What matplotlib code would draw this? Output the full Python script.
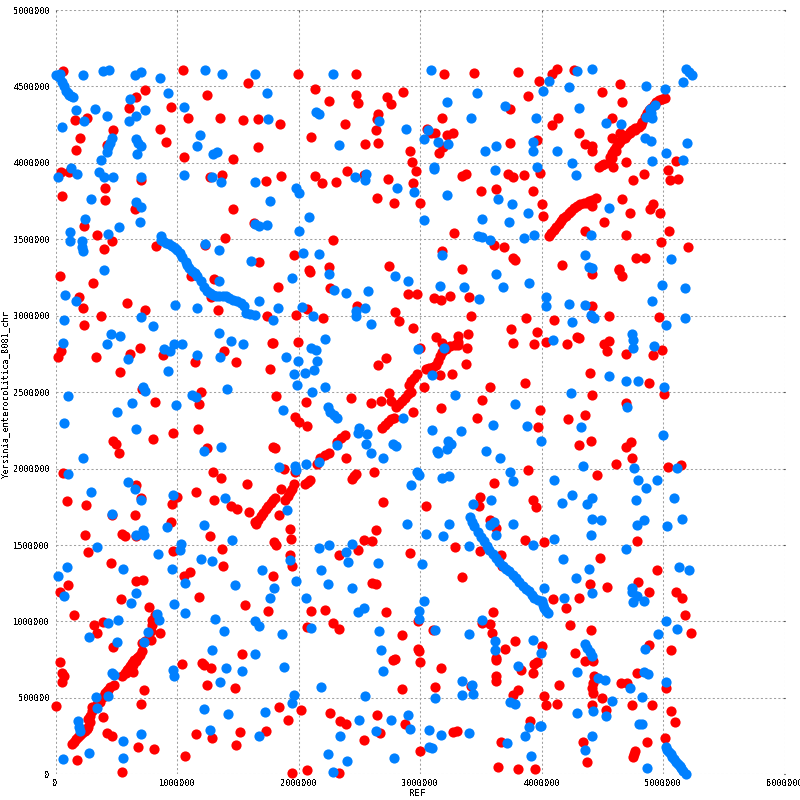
import numpy as np
import matplotlib
matplotlib.use('Agg')
import matplotlib.pyplot as plt

# all positions in kb (REF, query)
red_runs = [
    (133,199),(150,214),(168,229),(185,244),(202,258),(222,270),(243,284),(258,298),(271,312),(280,345),(285,380),
    (298,411),(312,428),(326,443),(300,440),(345,460),(367,476),(370,490),(388,505),(409,531),(420,545),(430,552),(450,574),(478,585),
    (547,640),(568,662),(580,660),(588,684),(600,690),(610,706),(620,705),(630,727),(640,715),(650,745),(660,740),(671,760),(680,770),(692,782),(713,804),(713,858),(740,875),
    (768,891),(782,880),(790,940),(795,978),(795,1011),(823,1044),
    (1642,1650),(1652,1640),(1670,1665),(1690,1690),(1710,1712),(1730,1735),(1750,1755),(1770,1775),(1790,1795),(1807,1807),
    (1890,1792),(1910,1820),(1930,1845),(1950,1865),(1960,1901),(2055,1901),(2075,1912),(2096,1923),
    (2152,2033),(2179,2070),(2220,2088),(2248,2099),(2317,2175),(2350,2198),(2386,2219),(2441,1934),(2459,1950),(2477,1967),
    (2689,2263),(2710,2285),(2735,2305),(2760,2322),(2785,2333),(2744,2493),(2758,2439),
    (2799,2406),(2825,2425),(2850,2445),(2875,2465),(2900,2485),(2923,2504),(2909,2548),(2930,2575),(2950,2595),(2978,2618),
    (3047,2651),(3075,2655),(3105,2662),(3135,2680),(3150,2705),(3165,2735),(3185,2765),(3210,2785),(3250,2800),(3290,2808),(3314,2830),(3314,2866),
    (4058,3524),(4078,3542),(4099,3561),(4120,3580),(4140,3600),(4160,3618),(4181,3637),(4202,3654),(4223,3670),(4244,3687),
    (4264,3703),(4292,3718),(4319,3731),(4346,3736),(4374,3740),(4395,3750),(4415,3757),(4448,3768),
    (4470,3975),(4495,3985),(4517,3993),(4567,4002),(4589,3975),(4567,4041),(4580,4030),(4584,4062),(4600,4084),(4610,4075),(4614,4106),(4627,4128),(4640,4130),(4645,4140),
    (4663,4154),(4684,4168),(4690,4165),(4704,4183),(4725,4200),(4730,4195),(4745,4215),(4770,4215),(4772,4226),(4800,4237),(4815,4245),(4828,4270),(4855,4302),(4870,4325),(4883,4346),
    (4904,4362),(4924,4379),(4945,4395),(4965,4411),(4992,4420),(5020,4427),
]
red_hits = [
    (64,4601),(740,4477),(660,4433),(602,4357),(950,4363),(1052,4605),(1588,4520),(1248,4442),(1091,4292),(1356,4292),
    (1541,4278),(1668,4285),(257,4292),(163,4278),(470,4213),(859,4220),(204,4161),(909,4135),(1668,4102),(171,4082),
    (425,4117),(1058,4036),(1464,4023),(47,3940),(113,3940),(702,3888),(1273,3906),(1373,3919),(1729,3880),(406,3836),
    (55,3781),(409,3757),(652,3698),(1464,3696),(238,3590),(1635,3605),(345,3526),(1398,3511),(461,3487),(403,3435),
    (826,3454),(1232,3463),(1679,3350),
    (39,3263),(312,3211),(196,3125),(229,3053),(378,3000),(238,2941),(586,3086),(735,3039),(1116,3263),(1306,3237),
    (1279,3125),(1340,3039),(1737,3000),(1782,2822),(22,2730),(47,2770),(337,2730),(613,2750),(693,2789),(884,2743),
    (528,2632),(1389,2770),(1149,2697),(1489,2697),(1762,2651),(710,2520),(1199,2500),(1182,2421),(818,2434),(1174,2257),
    (967,2230),(801,2191),(470,2178),(494,2158),(519,2105),(1248,2132),(64,1974),(1298,1980),(1364,1941),(1580,1901),
    (660,1895),(1157,1849),(702,1809),(1000,1816),(1306,1796),(97,1790),(254,1763),(958,1770),(1447,1757),(1497,1737),
    (1596,1717),(461,1697),(652,1697),(950,1651),
    (246,1568),(544,1574),(569,1557),(660,1561),(1273,1561),(265,1454),(969,1461),(1373,1474),(453,1382),(1381,1362),
    (1108,1323),(1058,1295),(660,1264),(718,1271),(105,1238),(39,1192),(536,1146),(1182,1159),(1563,1107),(768,1094),
    (1746,1068),(155,1042),(395,996),(320,976),(340,924),(859,924),(470,832),(39,734),(1539,786),(1041,721),
    (1207,727),(1224,714),(1282,694),(55,662),(72,642),(55,603),(635,666),(1248,583),(1480,563),(726,550),
    (6,446),(702,459),(395,374),(271,363),(420,269),(461,249),(1157,262),(1290,236),(1519,275),(1729,282),
    (677,177),(809,164),(1489,190),(1066,118),(180,92),(544,13),
    (1992,4579),(2471,4579),(3198,4579),(3446,4586),(3810,4592),(3983,4533),(2132,4481),(2860,4462),(2471,4442),(2248,4403),
    (2488,4390),(2727,4429),(2760,4383),(3893,4435),(3738,4350),(2653,4318),(2645,4285),(3182,4292),(1851,4252),(2380,4252),
    (2636,4213),(3058,4220),(3091,4193),(3124,4193),(3223,4180),(3273,4193),(2099,4167),(2545,4121),(2653,4128),(3744,4132),
    (3959,4148),(3190,4102),(3157,4063),(2917,4076),(2934,4004),(2967,3945),(1857,3912),(2132,3912),(2190,3866),(2306,3873),
    (2397,3945),(2537,3919),(2736,3893),(2942,3866),(3347,3912),(3375,3925),(3727,3925),(3769,3906),(3860,3919),(3984,3932),
    (3504,3814),(3625,3827),(3934,3814),(2647,3773),(2785,3736),(3000,3736),(4003,3729),(3281,3539),(2281,3494),(3612,3461),
    (3694,3448),(3182,3422),(1959,3396),(3769,3376),(3785,3363),(2248,3317),(2744,3324),(2083,3300),(3347,3304),
    (2096,3289),(1835,3191),(2256,3184),(2901,3145),(2975,3145),(3116,3118),(3174,3105),(3248,3132),(3405,3125),(2479,3066),
    (2066,3046),(1983,3007),(2198,2987),(2793,3026),(2826,2967),(2942,2921),(3422,3000),(3876,2987),(3752,2914),(3967,2895),
    (3132,2862),(3182,2822),(3397,2882),(3769,2822),(3942,2816),(1788,2822),(1992,2829),(3000,2789),(3389,2789),(3314,2809),
    (2719,2724),(2653,2678),(3380,2684),(3264,2618),(3165,2612),(3868,2559),(3033,2533),(3579,2533),(1818,2474),(2430,2461),
    (2595,2428),(2678,2441),(2058,2434),(3512,2447),(3174,2395),(2942,2368),(3984,2382),(1975,2336),(2000,2303),(2074,2276),
    (3471,2329),(3975,2270),(2388,2066),(3893,1993),(1884,2000),(1975,1980),(2620,1980),(3612,1908),(1860,1868),(2694,1783),
    (3050,1757),(3496,1816),(3488,1757),(3926,1796),(3951,1750),(1843,1697),(1934,1605),(2636,1599),(3579,1664),(3625,1612),
    (1804,2132),(1790,2140),
    (1802,1522),(1818,1500),(1942,1539),(2537,1533),(2603,1526),(2488,1467),(2331,1435),(1926,1435),(1950,1362),(2917,1448),
    (3289,1487),(3496,1461),(3868,1533),(3669,1435),(3678,1362),(1793,1297),(3347,1290),(2603,1251),(2636,1245),(2099,1068),
    (2215,1074),(2719,1061),(3603,1061),(2281,989),(2331,950),(2066,963),(2983,1002),(3107,943),(2851,911),(3510,989),
    (3579,983),(3595,924),(3785,871),(3703,819),(2983,819),(2992,806),(2793,753),(2777,747),(3000,734),(3628,760),
    (3628,747),(3174,694),(3835,681),(3942,721),(3967,734),(3926,662),(3628,642),(3628,609),(3124,570),(2851,557),
    (3422,577),(3810,550),(3769,517),(1843,439),(2017,419),(2256,400),(1917,354),(2339,347),(2388,328),(2645,387),
    (2876,328),(2669,269),(2537,223),(3273,275),(3306,282),(3909,347),(3000,151),(3669,210),(2066,26),(1950,7),
    (2331,7),(3645,46),(3810,33),(3950,33),
    (4127,4612),(4083,4579),(4264,4605),(4644,4514),(4495,4462),(4660,4396),(4132,4292),(4578,4292),(4083,4246),(4305,4193),
    (4578,4161),(4649,4193),(4355,4121),(4413,4110),(4413,4076),(4693,4004),(5106,4010),(5040,3951),(4842,3925),(4751,3886),
    (5056,3886),(5122,3893),(4016,3651),(4660,3762),(4413,3716),(4726,3670),(4916,3729),(4891,3696),(4974,3670),(4512,3611),
    (4355,3552),(5048,3552),(4693,3526),(4982,3481),(5205,3448),(4776,3376),(4850,3376),(4165,3330),(4635,3304),
    (4413,3276),(4635,3298),(4660,3257),(4413,3066),(4099,2974),(4553,3000),(4413,2993),(4966,2993),(4041,2829),(4206,2816),
    (4289,2862),(4311,2855),(4512,2816),(4553,2836),(4536,2770),(4693,2750),(4916,2743),(4990,2776),(4396,2625),(4883,2559),
    (4413,2480),(5012,2487),(4693,2428),(4355,2349),(4215,2322),(4404,2178),(4305,2151),(4734,2171),(4693,2138),(4742,2066),
    (4610,2033),(5040,2013),(5147,2026),(4454,1961),
    (4017,1520),(4784,1526),(4479,1415),(4949,1336),(4396,1245),(4536,1225),(4792,1258),(4883,1192),(5106,1192),(5155,1153),
    (4091,1146),(4305,1153),(4198,1087),(5180,1042),(4231,976),(4404,943),(5229,924),(4008,839),(4883,845),(5064,812),
    (4272,793),(4355,740),(4421,740),(4429,642),(4421,596),(4421,531),(4413,564),(4784,662),(4652,596),(4701,596),
    (4140,583),(5023,563),(4017,511),(4495,498),(4033,452),(4124,459),(4413,452),(4742,452),(4913,454),(4528,419),
    (5064,413),(5097,341),(5015,236),(4338,210),(4866,210),(4767,151),(4759,133),(4751,116),(4371,79),
]
blue_runs = [
    (3,4573),(36,4581),(30,4560),(50,4530),(70,4500),(85,4470),(100,4455),(115,4445),(130,4438),(141,4433),
    (867,3522),(867,3496),(885,3486),(906,3478),(933,3467),(961,3456),(982,3443),(1003,3430),(1024,3408),(1044,3387),(1072,3354),(1085,3332),(1099,3310),(1127,3294),(1148,3278),(1168,3261),
    (1196,3228),(1224,3189),(1251,3162),(1272,3149),(1293,3136),(1320,3132),(1348,3129),(1375,3129),(1403,3129),(1430,3115),(1458,3101),(1492,3094),(1527,3086),(1555,3064),(1569,3020),(1600,3012),(1638,3004),
    (2240,2401),(2262,2373),(2289,2351),(2317,2329),
    (3412,1683),(3425,1650),(3447,1627),(3474,1583),(3500,1555),(3529,1524),(3550,1495),(3570,1469),(3598,1440),(3625,1415),
    (3652,1388),(3680,1360),(3708,1345),(3736,1328),(3763,1305),(3791,1284),(3818,1255),(3846,1229),(3873,1212),(3901,1197),
    (3922,1175),(3942,1153),(3970,1138),(4003,1131),(4015,1105),(4022,1087),(4035,1070),(4050,1055),
    (4355,852),(4374,825),(4396,799),(4413,775),
    (5023,177),(5035,162),(5048,149),(5062,132),(5076,116),(5090,100),(5103,83),(5121,68),(5139,55),(5152,40),(5166,24),(5188,0),
]
blue_hits = [
    (229,4573),(395,4599),(439,4605),(652,4573),(702,4592),(859,4553),(925,4455),(610,4416),(171,4344),(329,4350),
    (420,4305),(660,4305),(735,4344),(602,4272),(238,4272),(55,4233),(1058,4363),(1232,4605),(1373,4579),(1638,4579),
    (1737,4455),(1746,4285),(1190,4180),(1166,4108),(1298,4056),(1326,4069),(461,4161),(450,4128),(436,4106),(420,4071),
    (378,4017),(660,4154),(679,4128),(702,4108),(668,4056),(130,3964),(22,3906),(180,3925),(362,3938),(403,3906),
    (470,3906),(702,3906),(1058,3919),(1287,3906),(1364,3873),(1646,3873),(296,3762),(660,3742),(702,3709),(693,3611),
    (246,3631),(1762,3749),(1638,3598),(1671,3585),(1737,3592),(519,3579),(122,3546),(122,3487),(428,3533),(221,3487),
    (215,3448),(229,3422),(1232,3467),(1348,3428),(1613,3356),(403,3298),
    (80,3138),(171,3099),(1348,3224),(983,3072),(1166,3053),(1679,3099),(702,2993),(72,2974),(801,2934),(453,2882),
    (528,2868),(1348,2888),(64,2822),(420,2816),(1447,2836),(1547,2816),(892,2783),(942,2770),(975,2816),(1041,2816),
    (1166,2743),(1356,2730),(594,2717),(925,2638),(718,2533),(735,2509),(1414,2520),(105,2474),(1124,2480),(1157,2467),
    (627,2428),(992,2414),(503,2368),(72,2296),(660,2257),(229,2066),(1364,2138),(1224,2112),(105,1967),(594,1914),
    (652,1868),(296,1849),(702,1796),(967,1829),(1398,1809),(461,1704),(920,1618),(1224,1632),(718,1599),
    (660,1568),(726,1568),(1033,1507),(1025,1467),(345,1487),(842,1441),(1456,1533),(1199,1408),(1290,1395),(97,1356),
    (552,1343),(958,1343),(1696,1336),(22,1297),(1066,1251),(1480,1238),(660,1186),(72,1166),(1762,1153),(619,1120),
    (975,1114),(1066,1055),(834,1048),(851,1009),(1315,1015),(1638,1002),(1679,969),(511,1009),(436,989),(1389,937),
    (760,930),(279,897),(726,865),(503,865),(1290,812),(1646,786),(967,681),(975,642),(1406,694),(1538,673),
    (461,662),(478,649),(1356,603),(337,505),(428,511),(345,432),(1224,426),(1422,393),(1721,406),(188,347),
    (196,312),(204,282),(1273,288),(1671,249),(552,216),(702,262),(279,138),(64,99),(552,105),
    (2281,4579),(3091,4605),(3471,4457),(3223,4396),(3703,4370),(2141,4331),(2165,4318),(3422,4292),(3951,4292),(2661,4272),
    (2884,4220),(3066,4213),(3033,4154),(3149,4135),(3231,4121),(2331,4115),(3628,4108),(3537,4076),(3926,4135),(3926,4076),
    (3967,3971),(3116,3971),(3116,3958),(3617,3951),(2554,3925),(2545,3886),(2463,3906),(2810,3834),(2950,3808),(1983,3834),
    (2000,3801),(3223,3788),(3645,3762),(3758,3729),(3893,3670),(2083,3644),(3033,3624),(3512,3631),(3736,3611),(2008,3552),
    (3479,3520),(3507,3513),(3579,3494),(3860,3507),(3942,3526),(2041,3409),(2165,3402),(3182,3396),
    (1950,3250),(2248,3270),(2793,3263),(2901,3224),(3165,3197),(3364,3191),(3628,3276),(3686,3191),(3901,3217),(2289,3171),
    (2388,3151),(2570,3164),(3488,3112),(1835,3053),(2025,3059),(2116,3000),(1788,2974),(2471,3033),(2471,3000),(2545,3053),
    (2595,2947),(2215,2849),(2099,2789),(2141,2776),(1901,2730),(1992,2704),(2149,2704),(2124,2645),(1967,2618),(2050,2625),
    (1986,2546),(2215,2533),(2107,2500),(1876,2382),(2986,2783),(3198,2789),(3099,2612),(3289,2480),(3785,2421),(2860,2329),
    (3099,2250),(3339,2243),(3603,2283),(3884,2276),(3997,2178),(2496,2263),(2488,2230),(2562,2224),(2554,2164),(2314,2151),
    (2777,2164),(2802,2145),(2595,2105),(2694,2066),(3231,2178),(3256,2164),(3223,2125),(3143,2118),(3149,2105),(3546,2112),
    (3661,2072),(2058,2033),(2165,2046),(1975,2020),(1983,1993),(1843,2013),(3744,1980),(3769,1921),(2975,1980),(2992,1956),
    (3182,1941),(3240,1954),(2926,1895),(3587,1796),(3438,1770),(1909,1730),(2893,1638),(3240,1638),(3769,1638),(3579,1632),(3606,1649),
    (3050,1572),(3190,1559),(3628,1568),(2165,1480),(2248,1500),(2438,1507),(2388,1454),(3405,1493),(3926,1500),(1926,1402),
    (2653,1382),(2405,1389),(3017,1376),(2182,1336),(1983,1264),(2240,1245),(2438,1218),(1802,1218),(2058,1153),(3033,1133),
    (2992,1068),(2488,1061),(2537,1087),(2992,1015),(3513,1009),(2099,956),(1862,917),(2661,937),(3124,943),(3405,917),
    (3620,871),(3934,878),(3620,812),(2678,812),(1884,701),(3810,710),(2694,675),(3347,609),(3430,583),(3438,524),
    (3347,518),(2182,570),(1967,518),(1950,465),(2545,511),(3124,498),(3744,472),(3785,459),(2901,387),(2496,354),
    (2760,354),(3901,308),(2917,295),(2636,282),(2339,249),(3074,288),(3174,256),(3405,269),(3868,249),(3719,203),
    (3074,177),(3099,170),(2240,131),(2397,85),(2785,105),(3917,118),(2281,13),(3984,314),
    (4289,4599),(4413,4612),(5188,4612),(5213,4592),(5237,4573),(5163,4527),(4058,4533),(4016,4468),(4223,4494),(4858,4501),
    (5015,4481),(4305,4357),(4528,4259),(4652,4252),(4932,4377),(4897,4350),(4858,4298),(4910,4292),(4905,4324),(4850,4161),
    (4900,4141),(5196,4128),(4127,4076),(5023,4063),(5163,4017),(4248,3997),(4910,4010),(4281,3919),(4553,3703),(4404,3526),
    (4358,3396),(5064,3369),(4388,3317),(4415,3310),
    (4990,3200),(5180,3184),(4033,3125),(4033,3066),(4223,3079),(4355,3072),(4907,3099),(4404,3007),(4429,2987),(4248,2961),
    (5180,2987),(5023,2941),(4742,2882),(4751,2842),(4751,2789),(4091,2842),(4924,2803),(4553,2605),(4693,2572),(4792,2572),
    (5007,2533),(4239,2493),(4701,2401),(4322,2270),(4998,2217),(4341,2020),(4759,2007),(5114,2007),(4099,1928),(4792,1928),
    (4949,1928),(4858,1875),(4248,1829),(4413,1809),(4371,1770),(4776,1796),(5089,1809),(4165,1776),(4413,1671),(4487,1664),
    (4841,1664),(4784,1632),(5155,1671),(5032,1625),(4404,1566),
    (4099,1539),(4693,1474),(4173,1408),(5130,1356),(5213,1336),(4388,1343),(4281,1284),(4745,1218),(4745,1192),(4017,1218),
    (4413,1186),(4182,1153),(4786,1166),(4844,1133),(4753,1127),(5026,1002),(5117,950),(4957,917),(3992,793),(4850,819),
    (4289,668),(4462,629),(4520,616),(4841,668),(4875,655),(5023,603),(4726,563),(4825,505),(4578,478),(4289,400),
    (4421,413),(4528,380),(3995,315),(4800,328),(4828,328),(4413,249),(4355,157),(4866,40),
]
x_ticks = [0, 1000000, 2000000, 3000000, 4000000, 5000000, 6000000]
y_ticks = [0, 500000, 1000000, 1500000, 2000000, 2500000, 3000000, 3500000, 4000000, 4500000, 5000000]

plt.rcParams['font.family'] = 'DejaVu Sans Mono'
plt.rcParams['text.antialiased'] = False

fig = plt.figure(figsize=(8, 8), dpi=100)
ax = fig.add_axes([55.5 / 800, 1 - 774.3 / 800, 729 / 800, 764.3 / 800])

red = np.array(red_runs + red_hits) * 1000
blue = np.array(blue_runs + blue_hits) * 1000
ax.scatter(red[:, 0], red[:, 1], s=54, c='#ff0000', linewidths=0, antialiased=False, clip_on=False, zorder=3)
ax.scatter(blue[:, 0], blue[:, 1], s=54, c='#0080ff', linewidths=0, antialiased=False, clip_on=False, zorder=4)

ax.set_xlim(0, 6000000)
ax.set_ylim(0, 5000000)
ax.set_xticks(x_ticks)
ax.set_yticks(y_ticks)
ax.set_xticklabels([str(v) for v in x_ticks])
ax.set_yticklabels([str(v) for v in y_ticks])
ax.tick_params(length=1, direction='in', top=True, right=True, bottom=False, left=False, labelsize=6.2, color='black')
ax.tick_params(axis='x', pad=3.5)
ax.tick_params(axis='y', pad=4)
ax.grid(True, color='#a0a0a0', linewidth=0.75, linestyle=(0, (2, 2.2)))
ax.set_axisbelow(True)
for s in ax.spines.values():
    s.set_visible(False)

fig.text(418 / 800, 1 - 793 / 800, 'REF', ha='center', va='center', fontsize=6.6)
fig.text(6 / 800, 1 - 394 / 800, 'Yersinia_enterocolitica_8081_chr', rotation=90, ha='center', va='center', fontsize=6.2)

fig.savefig('out.png', dpi=100)
